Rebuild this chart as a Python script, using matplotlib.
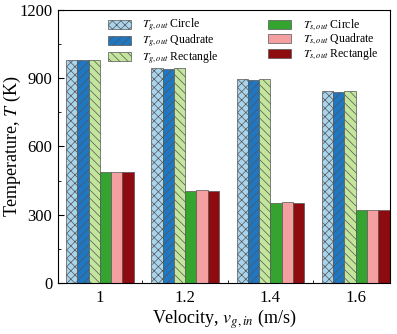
import numpy as np
import matplotlib
matplotlib.use("Agg")
import matplotlib.pyplot as plt

plt.rcParams['font.family'] = ['Liberation Serif', 'DejaVu Serif']
plt.rcParams['mathtext.fontset'] = 'stix'
plt.rcParams['hatch.linewidth'] = 0.5

velocity = ['1', '1.2', '1.4', '1.6']
tg_circle = [982, 945, 896, 843]
tg_quad = [981, 942, 893, 840]
tg_rect = [982, 944, 895, 842]
ts_circle = [488, 406, 352, 319]
ts_quad = [488, 409, 356, 322]
ts_rect = [488, 406, 352, 319]

series = [
    (tg_circle, '$T_{g,out}$ Circle', '#a8d5ec', 'xxxx'),
    (tg_quad, '$T_{g,out}$ Quadrate', '#1f77c2', '////'),
    (tg_rect, '$T_{g,out}$ Rectangle', '#c4e69c', '\\\\\\\\'),
    (ts_circle, '$T_{s,out}$ Circle', '#34a330', None),
    (ts_quad, '$T_{s,out}$ Quadrate', '#f4a0a0', None),
    (ts_rect, '$T_{s,out}$ Rectangle', '#8e0c10', None),
]

fig = plt.figure(figsize=(3.97, 3.34), dpi=100)
ax = fig.add_axes([0.146, 0.153, 0.836, 0.817])

x = np.arange(len(velocity))
w = 0.132
for i, (vals, lab, col, hat) in enumerate(series):
    ax.bar(x + (i - 2.5) * w, vals, w, color=col, edgecolor='#555555',
           linewidth=0.5, hatch=hat, label=lab)

ax.set_xlim(-0.49, 3.4)
ax.set_ylim(0, 1200)
ax.set_yticks([0, 300, 600, 900, 1200])
ax.set_yticks(np.arange(150, 1200, 300), minor=True)
ax.set_xticks(x)
ax.set_xticklabels(velocity)
ax.set_xticks(x[:-1] + 0.5, minor=True)
ax.tick_params(axis='both', which='both', direction='in', labelsize=12)
ax.tick_params(axis='x', which='major', length=0, pad=5)
ax.tick_params(axis='both', which='minor', length=2.5)
ax.tick_params(axis='y', which='major', length=4, pad=4)
ax.set_xlabel('Velocity, $v_{g,in}$ (m/s)', fontsize=13, labelpad=1)
ax.set_ylabel('Temperature, $T$ (K)', fontsize=13)
ax.yaxis.set_label_coords(-0.105, 0.5)

ax.legend(ncol=2, loc='upper left', bbox_to_anchor=(0.151, 0.975),
          frameon=False, fontsize=8.5, borderpad=0, borderaxespad=0,
          handlelength=1.9, handleheight=0.8, handletextpad=1.0,
          columnspacing=4.2, labelspacing=-0.1)

fig.savefig('out.png', dpi=100)
